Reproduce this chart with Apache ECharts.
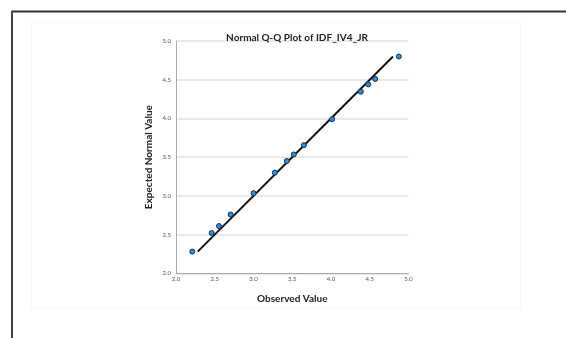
<!DOCTYPE html>
<html>
<head>
<meta charset="utf-8">
<script src="https://cdn.jsdelivr.net/npm/echarts@6/dist/echarts.min.js"></script>
<style>html,body{margin:0;padding:0;background:#fff;}#c{width:566px;height:338px;}</style>
</head>
<body>
<div id="c"></div>
<script>
const observed = [2.21, 2.46, 2.555, 2.705, 3.0, 3.275, 3.43, 3.52, 3.65, 4.015, 4.385, 4.48, 4.57, 4.875];
const expected = [2.28, 2.52, 2.61, 2.76, 3.035, 3.30, 3.45, 3.535, 3.655, 3.99, 4.345, 4.44, 4.51, 4.80];
const refLineX = [2.28, 4.80];
const refLineY = [2.28, 4.80];
const axisMin = 2.0, axisMax = 5.0, axisStep = 0.5;

const chart = echarts.init(document.getElementById('c'), null, {renderer: 'canvas'});
const font = 'Lato, "Open Sans", sans-serif';
chart.setOption({
  animation: false,
  backgroundColor: '#fff',
  graphic: [
    {type: 'rect', shape: {x: 31.5, y: 22.5, width: 489, height: 286}, style: {fill: 'none', stroke: '#f7f7f7', lineWidth: 1}, z: -1},
    {type: 'line', shape: {x1: 11.5, y1: 11.5, x2: 566, y2: 11.5}, style: {stroke: '#333', lineWidth: 2}},
    {type: 'line', shape: {x1: 12, y1: 11, x2: 12, y2: 338}, style: {stroke: '#444', lineWidth: 2}}
  ],
  title: {
    text: 'Normal Q-Q Plot of IDF_IV4_JR',
    left: 292, top: 28, textAlign: 'center',
    textStyle: {fontFamily: font, fontWeight: 'bold', fontSize: 10, color: '#222'}
  },
  grid: {left: 176, right: 157.5, top: 41, bottom: 64.7, containLabel: false},
  xAxis: {
    type: 'value', min: axisMin, max: axisMax, interval: axisStep,
    name: 'Observed Value', nameLocation: 'middle', nameGap: 20,
    nameTextStyle: {fontFamily: font, fontWeight: 'bold', fontSize: 10, color: '#222'},
    axisLine: {show: true, lineStyle: {color: '#aaa', width: 1}},
    axisTick: {show: false},
    axisLabel: {fontFamily: font, fontSize: 6, color: '#555', margin: 3, formatter: v => v.toFixed(1)},
    splitLine: {show: false}
  },
  yAxis: {
    type: 'value', min: axisMin, max: axisMax, interval: axisStep,
    name: 'Expected Normal Value', nameLocation: 'middle', nameGap: 22,
    nameTextStyle: {fontFamily: font, fontWeight: 'bold', fontSize: 10, color: '#222'},
    axisLine: {show: true, lineStyle: {color: '#aaa', width: 1}},
    axisTick: {show: false},
    axisLabel: {fontFamily: font, fontSize: 6, color: '#555', margin: 5, formatter: v => v.toFixed(1)},
    splitLine: {show: true, lineStyle: {color: '#e2e2e2', width: 1.5}}
  },
  series: [
    {
      type: 'line',
      data: refLineX.map((x, i) => [x, refLineY[i]]),
      symbol: 'none',
      lineStyle: {color: '#111', width: 2},
      z: 2
    },
    {
      type: 'scatter',
      data: observed.map((x, i) => [x, expected[i]]),
      symbolSize: 5,
      itemStyle: {color: '#2a90e0', borderColor: '#1b2f45', borderWidth: 1, opacity: 1},
      z: 3
    }
  ]
});
</script>
</body>
</html>
